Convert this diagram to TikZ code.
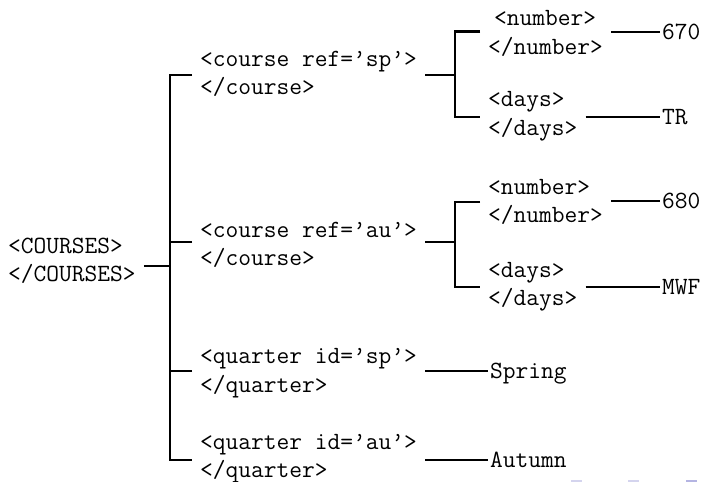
\documentclass[tikz,border=0pt]{standalone}
\newcommand\tagfont{\fontsize{24.76}{28.5}\selectfont\ttfamily}
\newcommand\pair[2]{\strut#1\\\strut#2}
\definecolor{navlight}{HTML}{D4D4EE}
\definecolor{navdark}{HTML}{B4B4E2}
\tikzset{
  tag/.style={anchor=west, align=left, inner xsep=8pt, inner ysep=0pt, font=\tagfont},
  val/.style={anchor=west, inner xsep=2pt, inner ysep=0pt, font=\tagfont,
              text height=15pt, text depth=0pt},
  edge/.style={line width=2.8pt, line join=miter},
}
\begin{document}
\begin{tikzpicture}[x=1pt, y=-1pt]
\fill[white] (0,0) rectangle (705,482);
\useasboundingbox (0,0) rectangle (705,482);

% element nodes
\node[tag] (root) at (0,262)   {\pair{<COURSES>}{</COURSES>}};
\node[tag] (csp)  at (192,75)   {\pair{<course ref=’sp’>}{</course>}};
\node[tag] (cau)  at (192,246)  {\pair{<course ref=’au’>}{</course>}};
\node[tag] (qsp)  at (192,372.5){\pair{<quarter id=’sp’>}{</quarter>}};
\node[tag] (qau)  at (192,458)  {\pair{<quarter id=’au’>}{</quarter>}};
\node[tag] (n1)   at (480,34.5) {\pair{\hspace*{6pt}<number>}{</number>}};
\node[tag] (d1)   at (480,115.5){\pair{<days>}{</days>}};
\node[tag] (n2)   at (480,203)  {\pair{<number>}{</number>}};
\node[tag] (d2)   at (480,286)  {\pair{<days>}{</days>}};

% text values
\node[val] (v670) at (660,32)  {670};
\node[val] (vtr)  at (660,117) {TR};
\node[val] (v680) at (660,201) {680};
\node[val] (vmwf) at (660,287) {MWF};
\node[val] (vspr) at (488,371) {Spring};
\node[val] (vaut) at (488,460) {Autumn};

% vertical bars of the tree
\coordinate (trunk) at (170,0);
\coordinate (fork)  at (455,0);

% root to its children
\draw[edge] ([yshift=-4pt]root.east) -- ([yshift=-4pt]root.east -| trunk);
\draw[edge] (csp.west) -- (csp.west -| trunk)
  -- ([yshift=-2pt]qau.west -| trunk) -- ([yshift=-2pt]qau.west);
\draw[edge] ([yshift=4pt]cau.west) -- ([yshift=4pt]cau.west -| trunk);
\draw[edge] ([yshift=1.5pt]qsp.west) -- ([yshift=1.5pt]qsp.west -| trunk);

% first course
\draw[edge] (csp.east) -- (csp.east -| fork);
\draw[edge] ([yshift=3pt]n1.west) -- ([yshift=3pt]n1.west -| fork)
  -- ([yshift=-1.5pt]d1.west -| fork) -- ([yshift=-1.5pt]d1.west);

% second course
\draw[edge] ([yshift=4pt]cau.east) -- ([yshift=4pt]cau.east -| fork);
\draw[edge] ([yshift=1pt]n2.west) -- ([yshift=1pt]n2.west -| fork)
  -- ([yshift=-1pt]d2.west -| fork) -- ([yshift=-1pt]d2.west);

% leaves
\draw[edge] (n1.east |- v670.west) -- (v670.west);
\draw[edge] (d1.east |- vtr.west)  -- (vtr.west);
\draw[edge] (n2.east |- v680.west) -- (v680.west);
\draw[edge] (d2.east |- vmwf.west) -- (vmwf.west);
\draw[edge] (qsp.east |- vspr.west) -- (vspr.west);
\draw[edge] (qau.east |- vaut.west) -- (vaut.west);

% navigation marks at the lower edge
\fill[navlight] (571,479.5) rectangle (582,482);
\fill[navlight] (628,479.5) rectangle (639,482);
\fill[navdark]  (686,479.5) rectangle (697,482);
\end{tikzpicture}
\end{document}
